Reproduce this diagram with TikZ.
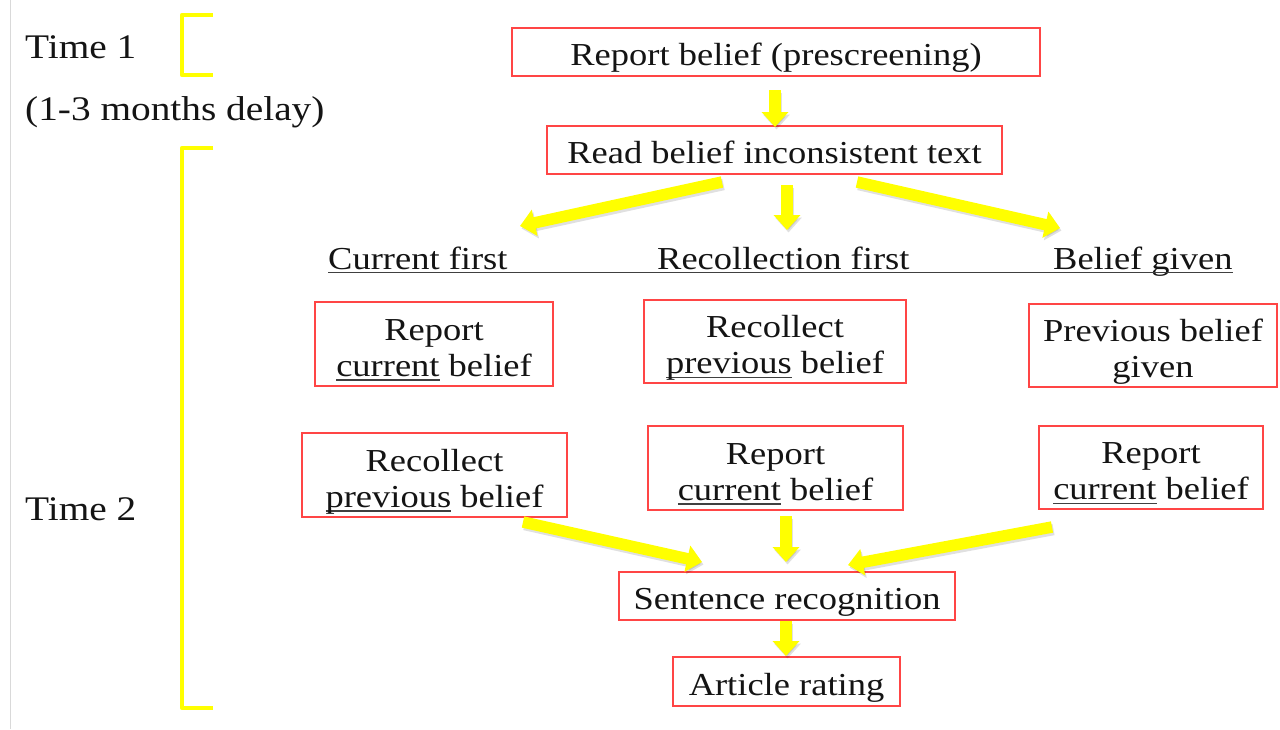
\documentclass[tikz,border=0pt]{standalone}
\usepackage{fontspec}
\setmainfont{Liberation Serif}[FakeStretch=1.14]
\usetikzlibrary{arrows.meta}
\definecolor{boxred}{HTML}{FF4545}
\definecolor{ylw}{HTML}{FFFF00}
\definecolor{txt}{HTML}{141414}
\definecolor{ulgray}{HTML}{404040}
\newcommand{\myul}[1]{\setbox0\hbox{#1}\rlap{\color{ulgray}\rule[-0.15em]{\wd0}{1.5pt}}\box0\relax}
% text placed with its last baseline a fixed distance below the node centre
\newcommand{\oneline}[1]{\raisebox{-13.5pt}[0pt][0pt]{#1}}
\newcommand{\twoline}[2]{\raisebox{-32pt}[0pt][0pt]{\begin{tabular}[b]{@{}c@{}}#1\\#2\end{tabular}}}
\begin{document}
\begin{tikzpicture}[x=1pt,y=-1pt,
  stagebox/.style={draw=boxred, line width=1.5pt, fill=white, inner sep=0pt, align=center,
    font=\fontsize{32}{36}\selectfont, text=txt},
  sidelabel/.style={anchor=west, inner sep=0pt, font=\fontsize{34.5}{40}\selectfont, text=txt},
  grouplabel/.style={anchor=base west, inner sep=0pt, font=\fontsize{32}{36}\selectfont, text=txt},
  yarrow/.style={draw=ylw, line width=11.5pt, -{Triangle[length=15pt,width=26pt]}},
  yshadow/.style={yarrow, draw=black, opacity=0.12, transform canvas={shift={(1.5pt,-2.5pt)}}},
  bracket/.style={draw=ylw, line width=4.5pt, line join=round},
]
\useasboundingbox (0,0) rectangle (1280,729);
\fill[white] (0,0) rectangle (1280,729);
\draw[black!15, line width=1pt] (10,0) -- (10,729);

% left labels and brackets
\node[sidelabel] (t1) at (25,47) {Time 1};
\node[sidelabel] (delay) at (25,112) {(1-3 months delay)};
\node[sidelabel] (t2) at (25,509) {Time 2};
\draw[bracket] (213,15) -- (182,15) -- (182,75) -- (213,75);
\draw[bracket] (213,148) -- (182,148) -- (182,708) -- (213,708);

% boxes
\node[stagebox, minimum width=528pt, minimum height=48pt] (b1) at (776,52) {\oneline{Report belief (prescreening)}};
\node[stagebox, minimum width=455pt, minimum height=48pt] (b2) at (774.5,150) {\oneline{Read belief inconsistent text}};

\node[grouplabel] (cf) at (328,269) {Current first};
\node[grouplabel] (rf) at (657,269) {Recollection first};
\node[grouplabel] (bg) at (1053,269) {Belief given};
\draw[ulgray, line width=1.5pt] ([yshift=-3.5pt]cf.base west) -- ([yshift=-3.5pt]bg.base east);

\node[stagebox, minimum width=238pt, minimum height=84pt] (a1) at (434,344) {\twoline{Report}{\myul{current} belief}};
\node[stagebox, minimum width=262pt, minimum height=83pt] (m1) at (775,341.5) {\twoline{Recollect}{\myul{previous} belief}};
\node[stagebox, minimum width=248pt, minimum height=83pt] (c1) at (1153,345.5) {\twoline{Previous belief}{given}};

\node[stagebox, minimum width=265pt, minimum height=84pt] (a2) at (434.5,475) {\twoline{Recollect}{\myul{previous} belief}};
\node[stagebox, minimum width=255pt, minimum height=84pt] (m2) at (775.5,468) {\twoline{Report}{\myul{current} belief}};
\node[stagebox, minimum width=224pt, minimum height=83pt] (c2) at (1151,467.5) {\twoline{Report}{\myul{current} belief}};

\node[stagebox, minimum width=336pt, minimum height=48pt] (sr) at (787,596) {\oneline{Sentence recognition}};
\node[stagebox, minimum width=227pt, minimum height=49pt] (ar) at (786.5,681.5) {\oneline{Article rating}};

% arrow end points
\coordinate (p1s) at (775,90);   \coordinate (p1e) at (775,127);
\coordinate (p2s) at (722,182);  \coordinate (p2e) at (520,226);
\coordinate (p3s) at (787,185);  \coordinate (p3e) at (787,230);
\coordinate (p4s) at (857,182);  \coordinate (p4e) at (1060,228);
\coordinate (p5s) at (523,522);  \coordinate (p5e) at (702,562);
\coordinate (p6s) at (786,516);  \coordinate (p6e) at (786,562);
\coordinate (p7s) at (1052,527); \coordinate (p7e) at (848,565);
\coordinate (p8s) at (786,621);  \coordinate (p8e) at (786,656);

\foreach \s/\e in {p1s/p1e,p2s/p2e,p3s/p3e,p4s/p4e,p5s/p5e,p6s/p6e,p7s/p7e,p8s/p8e}{
  \draw[yshadow] (\s) -- (\e);
  \draw[yarrow] (\s) -- (\e);
}
\end{tikzpicture}
\end{document}
